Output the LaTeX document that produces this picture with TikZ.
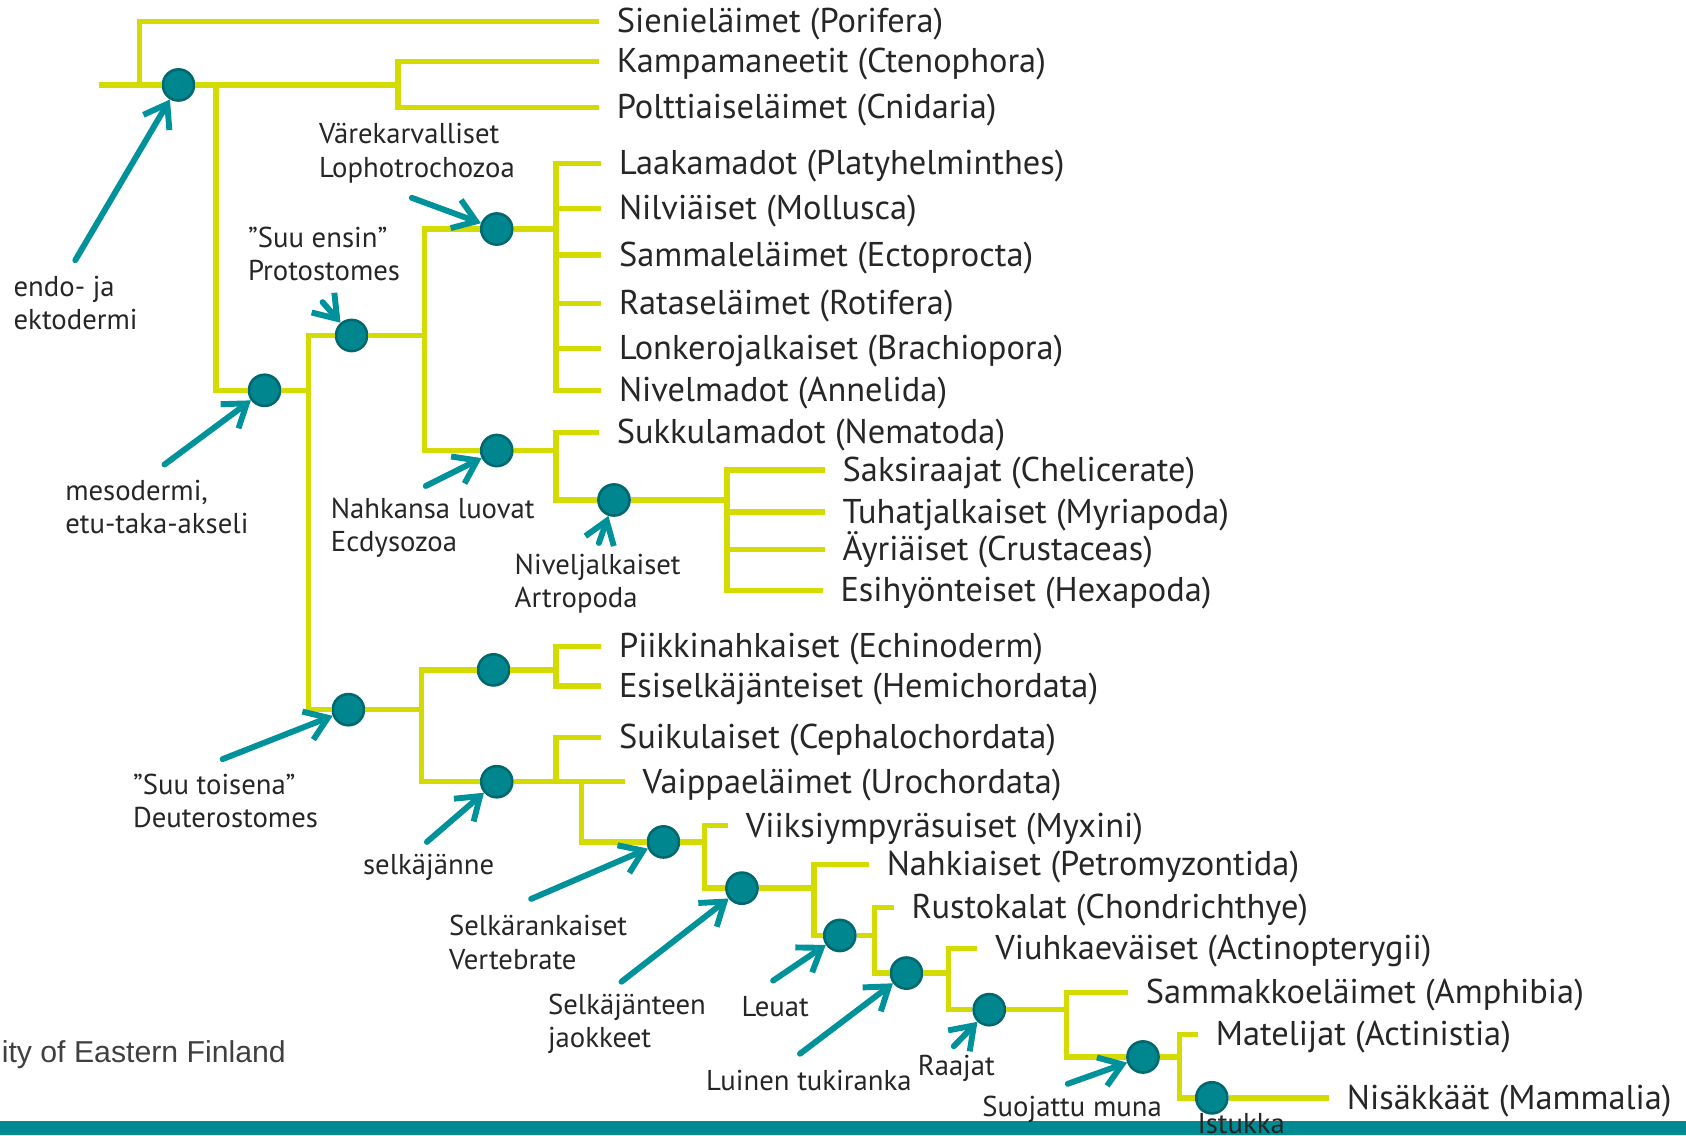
\documentclass[tikz,border=0pt]{standalone}
\usepackage{fontspec}
\setmainfont{PT Sans}
\setsansfont{Liberation Sans}
\usetikzlibrary{arrows.meta}
\definecolor{branchcol}{RGB}{212,219,0}
\definecolor{cladefill}{RGB}{0,134,143}
\definecolor{cladeedge}{RGB}{0,104,110}
\definecolor{arrowcol}{RGB}{0,146,155}
\definecolor{barcol}{RGB}{0,139,148}
\definecolor{footcol}{RGB}{64,64,64}
\begin{document}
\begin{tikzpicture}[x=0.1mm,y=-0.1mm,
	branch/.style={draw=branchcol,line width=0.5mm},
	clade/.style={circle,minimum size=2.9mm,inner sep=0,fill=cladefill,draw=cladeedge,line width=0.24mm},
	taxon/.style={anchor=west,inner xsep=1.6mm,inner ysep=0,text height=7.8pt,text depth=1.8pt,text=black!85,font=\fontsize{9.1}{11}\selectfont},
	trait/.style={anchor=west,align=left,inner sep=0,text=black!85,font=\fontsize{7.6}{8.8}\selectfont},
	pointer/.style={draw=arrowcol,line width=0.55mm,line cap=round,-{Straight Barb[length=2mm,width=2.8mm]}}]
	\useasboundingbox (0,0) rectangle (1568,1056);
	\fill[barcol] (0,1043) rectangle (1568,1056);
	\node[anchor=west,inner sep=0,text=footcol,font=\sffamily\fontsize{8}{9}\selectfont] (uef) at (1,981) {ity of Eastern Finland};

	\node[clade] (metaz) at (166,79) {};
	\node[clade] (bilat) at (246,363) {};
	\node[clade] (proto) at (327,312) {};
	\node[clade] (loph) at (462,213) {};
	\node[clade] (ecdy) at (462,419) {};
	\node[clade] (arth) at (571,465) {};
	\node[clade] (deut) at (324,660) {};
	\node[clade] (amb) at (459,623) {};
	\node[clade] (chord) at (462,727) {};
	\node[clade] (vert) at (617,783) {};
	\node[clade] (seg) at (690,826) {};
	\node[clade] (jaw) at (781,870) {};
	\node[clade] (bone) at (843,905) {};
	\node[clade] (limb) at (920,939) {};
	\node[clade] (egg) at (1063,983) {};
	\node[clade] (plac) at (1127,1021) {};

	\node[taxon] (pori) at (557,20) {Sienieläimet (Porifera)};
	\node[taxon] (cten) at (557,57) {Kampamaneetit (Ctenophora)};
	\node[taxon] (cnid) at (557,100) {Polttiaiseläimet (Cnidaria)};
	\node[taxon] (platy) at (559,152) {Laakamadot (Platyhelminthes)};
	\node[taxon] (moll) at (559,194) {Nilviäiset (Mollusca)};
	\node[taxon] (ecto) at (559,237) {Sammaleläimet (Ectoprocta)};
	\node[taxon] (roti) at (559,282) {Rataseläimet (Rotifera)};
	\node[taxon] (brach) at (559,324) {Lonkerojalkaiset (Brachiopora)};
	\node[taxon] (anne) at (559,363) {Nivelmadot (Annelida)};
	\node[taxon] (nema) at (557,402) {Sukkulamadot (Nematoda)};
	\node[taxon] (cheli) at (767,437) {Saksiraajat (Chelicerate)};
	\node[taxon] (myria) at (767,476) {Tuhatjalkaiset (Myriapoda)};
	\node[taxon] (crust) at (767,511) {Äyriäiset (Crustaceas)};
	\node[taxon] (hexa) at (765,549) {Esihyönteiset (Hexapoda)};
	\node[taxon] (echi) at (559,601) {Piikkinahkaiset (Echinoderm)};
	\node[taxon] (hemi) at (559,638) {Esiselkäjänteiset (Hemichordata)};
	\node[taxon] (ceph) at (559,686) {Suikulaiset (Cephalochordata)};
	\node[taxon] (uro) at (581,727) {Vaippaeläimet (Urochordata)};
	\node[taxon] (myx) at (677,768) {Viiksiympyräsuiset (Myxini)};
	\node[taxon] (petro) at (808,804) {Nahkiaiset (Petromyzontida)};
	\node[taxon] (chon) at (831,844) {Rustokalat (Chondrichthye)};
	\node[taxon] (acti) at (909,882) {Viuhkaeväiset (Actinopterygii)};
	\node[taxon] (amph) at (1049,923) {Sammakkoeläimet (Amphibia)};
	\node[taxon] (rept) at (1114,962) {Matelijat (Actinistia)};
	\node[taxon] (mamm) at (1236,1021) {Nisäkkäät (Mammalia)};

	\coordinate (root) at (92,79);
	\coordinate (s0) at (130,79);
	\coordinate (s1) at (370,79);
	\coordinate (s2) at (201,79);
	\coordinate (s3) at (287,363);
	\coordinate (s4) at (395,312);
	\coordinate (s5) at (517,213);
	\coordinate (s6) at (517,419);
	\coordinate (s7) at (676,465);
	\coordinate (s8) at (392,660);
	\coordinate (s9) at (517,623);
	\coordinate (s10) at (517,727);
	\coordinate (s11) at (541,727);
	\coordinate (s12) at (655,783);
	\coordinate (s13) at (757,826);
	\coordinate (s14) at (813,870);
	\coordinate (s15) at (882,905);
	\coordinate (s16) at (992,939);
	\coordinate (s17) at (1097,983);

	\draw[branch] (root) -- (metaz);
	\draw[branch] (s0) |- (pori.west);
	\draw[branch] (metaz) -- (s1);
	\draw[branch] (cten.west) -| (s1) |- (cnid.west);
	\draw[branch] (s2) |- (bilat);
	\draw[branch] (bilat) -- (s3);
	\draw[branch] (proto) -| (s3) |- (deut);
	\draw[branch] (proto) -- (s4);
	\draw[branch] (loph) -| (s4) |- (ecdy);
	\draw[branch] (loph) -- (s5);
	\foreach \t in {platy,moll,ecto,roti,brach,anne}
		\draw[branch] (s5) |- (\t.west);
	\draw[branch] (ecdy) -- (s6);
	\draw[branch] (nema.west) -| (s6) |- (arth);
	\draw[branch] (arth) -- (s7);
	\foreach \t in {cheli,myria,crust,hexa}
		\draw[branch] (s7) |- (\t.west);
	\draw[branch] (deut) -- (s8);
	\draw[branch] (amb) -| (s8) |- (chord);
	\draw[branch] (amb) -- (s9);
	\draw[branch] (echi.west) -| (s9) |- (hemi.west);
	\draw[branch] (chord) -- (uro.west);
	\draw[branch] (s10) |- (ceph.west);
	\draw[branch] (s11) |- (vert);
	\draw[branch] (vert) -- (s12);
	\draw[branch] (myx.west) -| (s12) |- (seg);
	\draw[branch] (seg) -- (s13);
	\draw[branch] (petro.west) -| (s13) |- (jaw);
	\draw[branch] (jaw) -- (s14);
	\draw[branch] (chon.west) -| (s14) |- (bone);
	\draw[branch] (bone) -- (s15);
	\draw[branch] (acti.west) -| (s15) |- (limb);
	\draw[branch] (limb) -- (s16);
	\draw[branch] (amph.west) -| (s16) |- (egg);
	\draw[branch] (egg) -- (s17);
	\draw[branch] (rept.west) -| (s17) |- (plac);
	\draw[branch] (plac) -- (mamm.west);

	\node[trait] (l-endo) at (12,282) {endo- ja\\ektodermi};
	\node[trait] (l-loph) at (296,142.5) {Värekarvalliset\\Lophotrochozoa};
	\node[trait] (l-proto) at (230,236.5) {”Suu ensin”\\Protostomes};
	\node[trait] (l-meso) at (60,471.5) {mesodermi,\\etu-taka-akseli};
	\node[trait] (l-ecdy) at (307,491) {Nahkansa luovat\\Ecdysozoa};
	\node[trait] (l-arth) at (478,542.5) {Niveljalkaiset\\Artropoda};
	\node[trait] (l-deut) at (123,745) {”Suu toisena”\\Deuterostomes};
	\node[trait] (l-chord) at (337,807) {selkäjänne};
	\node[trait] (l-vert) at (417,876.5) {Selkärankaiset\\Vertebrate};
	\node[trait] (l-seg) at (509,952.5) {Selkäjänteen\\jaokkeet};
	\node[trait] (l-jaw) at (689,936) {Leuat};
	\node[trait] (l-bone) at (656,1005) {Luinen tukiranka};
	\node[trait] (l-limb) at (853,994) {Raajat};
	\node[trait] (l-egg) at (913,1032) {Suojattu muna};
	\node[trait] (l-plac) at (1113,1045) {Istukka};

	\coordinate (p-endo) at (70,242);
	\coordinate (p-loph) at (383,184);
	\coordinate (p-proto) at (300,281);
	\coordinate (p-meso) at (153,432);
	\coordinate (p-ecdy) at (396,452);
	\coordinate (p-arth) at (557,505);
	\coordinate (p-deut) at (207,706);
	\coordinate (p-chord) at (397,783);
	\coordinate (p-vert) at (494,836);
	\coordinate (p-seg) at (578,913);
	\coordinate (p-jaw) at (719,912);
	\coordinate (p-bone) at (744,980);
	\coordinate (p-limb) at (887,973);
	\coordinate (p-egg) at (993,1008);
	\draw[pointer] (p-endo) -- (metaz);
	\draw[pointer] (p-loph) -- (loph);
	\draw[pointer] (p-proto) -- (proto);
	\draw[pointer] (p-meso) -- (bilat);
	\draw[pointer] (p-ecdy) -- (ecdy);
	\draw[pointer] (p-arth) -- (arth);
	\draw[pointer] (p-deut) -- (deut);
	\draw[pointer] (p-chord) -- (chord);
	\draw[pointer] (p-vert) -- (vert);
	\draw[pointer] (p-seg) -- (seg);
	\draw[pointer] (p-jaw) -- (jaw);
	\draw[pointer] (p-bone) -- (bone);
	\draw[pointer] (p-limb) -- (limb);
	\draw[pointer] (p-egg) -- (egg);
\end{tikzpicture}
\end{document}
